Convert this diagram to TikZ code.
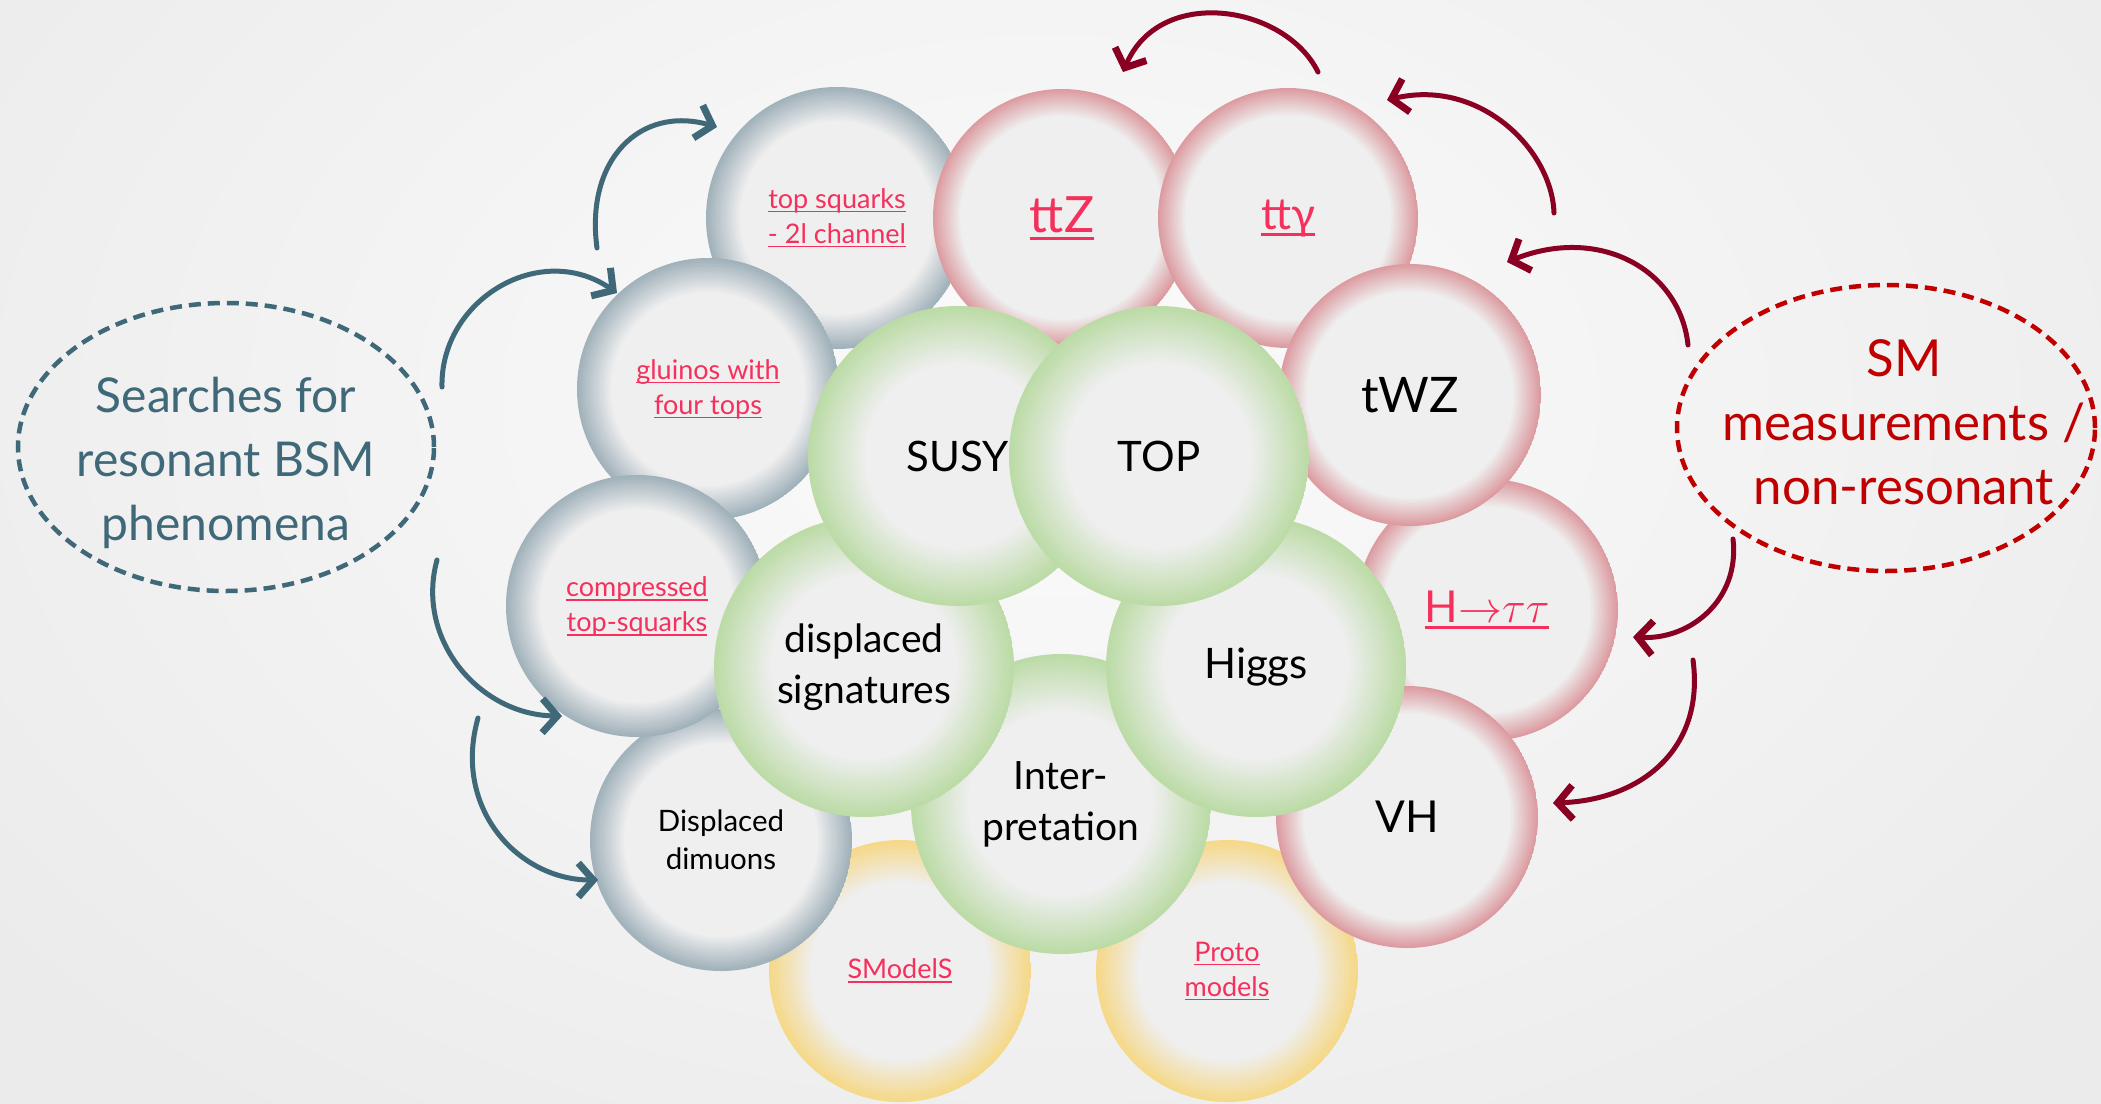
\RequirePackage{fix-cm}
\documentclass[tikz,border=0pt]{standalone}
\usepackage{fontspec}
\setmainfont{Lato}
\usetikzlibrary{arrows.meta,shapes.geometric}

\definecolor{bgin}{HTML}{FBFBFB}
\definecolor{bgout}{HTML}{EBEBEB}
\definecolor{ballfill}{HTML}{EFEFEF}
\definecolor{grayring}{HTML}{A0B1BA}
\definecolor{pinkring}{HTML}{DC9BA0}
\definecolor{greenring}{HTML}{BCDBA6}
\definecolor{yellowring}{HTML}{F5D888}
\definecolor{linkc}{HTML}{F5305C}
\definecolor{tealc}{HTML}{3F6878}
\definecolor{darkred}{HTML}{8A0022}
\definecolor{smred}{HTML}{C00000}

\newcommand\lk[1]{\setbox0\hbox{#1}\leavevmode\rlap{\vrule height -0.09em depth 0.15em width \wd0}\box0}

\tikzset{
  ballbase/.style n args={3}{circle, inner sep=0pt, align=center, minimum size={2*#1pt},
    path picture={
      \foreach \k in {0,...,24} {
        \pgfmathsetmacro\rr{#1*(1-\k*(1-#3)/24)}
        \pgfmathtruncatemacro\mx{100*\k/24}
        \fill[ballfill!\mx!#2] (path picture bounding box.center) circle[radius=\rr pt];
      }
    }},
  grayb/.style={ballbase={131}{grayring}{0.74}},
  pinkb/.style={ballbase={#1}{pinkring}{0.79}},
  pinkb/.default=131,
  yellowb/.style={ballbase={131}{yellowring}{0.68}},
  greenb/.style={ballbase={150}{greenring}{0.62}},
  smalltxt/.style={font=\fontsize{27}{35}\selectfont, text=linkc, text depth=4pt},
  smallblack/.style={font=\fontsize{29.5}{38}\selectfont, text=black},
  bigtxt/.style={font=\fontsize{42}{51}\selectfont, text=black},
  bigtwo/.style={font=\fontsize{39}{51}\selectfont, text=black},
  midtxt/.style={font=\fontsize{44}{51}\selectfont},
  sidebox/.style={ellipse, inner sep=0pt, dash pattern=on 12pt off 7pt, line width=4.5pt},
  sidetext/.style={align=center, font=\fontsize{#1}{64}\selectfont},
  tarrow/.style={draw=tealc, line width=5pt, line cap=round, -{Straight Barb[length=15pt,width=34pt,line width=7pt]}},
  rarrow/.style={draw=darkred, line width=5pt, line cap=round, -{Straight Barb[length=15pt,width=34pt,line width=7pt]}},
}

\begin{document}
\begin{tikzpicture}[x=1pt,y=-1pt]
\useasboundingbox (0,0) rectangle (2101,1103);
\clip (0,0) rectangle (2101,1103);
\shade[inner color=bgin, outer color=bgout] (-300,-500) rectangle (2400,1300);

% yellow
\node[yellowb, smalltxt] (smodels) at (900,971) {\lk{SModelS}};
\node[yellowb, smalltxt] (proto) at (1227,971) {\lk{Proto}\\\lk{models}};

% gray
\node[grayb, smalltxt] (tsq) at (837,218) {\lk{top squarks}\\\lk{- 2l channel}};
\node[grayb, smalltxt] (glu) at (708,389) {\lk{gluinos with}\\\lk{four tops}};
\node[grayb, smallblack] (dimu) at (721,840) {Displaced\\dimuons};
\node[grayb, smalltxt] (comp) at (637,606) {\lk{compressed}\\\lk{top-squarks}};

% pink
\node[pinkb, midtxt, text=linkc] (htt) at (1487,610) {\lk{H$\mathord{\rightarrow}\tau\tau$}};
\node[pinkb=129, text=linkc, font=\fontsize{50}{56}\selectfont] (ttz) at (1062,218) {\lk{ttZ}};
\node[pinkb=130, midtxt, text=linkc] (tta) at (1288,218) {\lk{ttγ}};
\node[pinkb, font=\fontsize{49}{56}\selectfont] (twz) at (1410,395) {tWZ};
\node[pinkb, midtxt] (vh) at (1407,817) {VH};

% green
\node[greenb, bigtwo] (interp) at (1061,804) {Inter-\\pretation};
\node[greenb, bigtwo] (disp) at (864,667) {displaced\\signatures};
\node[greenb, bigtxt] (higgs) at (1256,667) {Higgs};
\node[greenb, bigtxt] (susy) at (958,456) {SUSY};
\node[greenb, bigtxt] (top) at (1159,456) {TOP};

% side ellipses
\node[sidebox, draw=tealc, minimum width=416pt, minimum height=288pt,
  label={[sidetext=48, text=tealc, yshift=-16pt]center:{Searches for\\resonant BSM\\phenomena}}] (bsm) at (226,447) {};
\node[sidebox, draw=smred, minimum width=418pt, minimum height=286pt,
  label={[sidetext=51, text=smred, xshift=18pt, yshift=6pt]center:{SM\\measurements /\\non-resonant}}] (sm) at (1886,428) {};

% arrow end points
\coordinate (a1s) at (597,248); \coordinate (a1e) at (717,127);
\coordinate (a2s) at (442,387); \coordinate (a2e) at (617,293);
\coordinate (a3s) at (437,560); \coordinate (a3e) at (562,716);
\coordinate (a4s) at (478,718); \coordinate (a4e) at (598,880);
\coordinate (b1s) at (1318,72); \coordinate (b1e) at (1123,72);
\coordinate (b2s) at (1554,213); \coordinate (b2e) at (1387,100);
\coordinate (b3s) at (1688,345); \coordinate (b3e) at (1507,262);
\coordinate (b4s) at (1733,539); \coordinate (b4e) at (1633,637);
\coordinate (b5s) at (1693,660); \coordinate (b5e) at (1553,803);

\draw[tarrow] (a1s) .. controls (585,160) and (640,105) .. (a1e);
\draw[tarrow] (a2s) .. controls (440,300) and (540,240) .. (a2e);
\draw[tarrow] (a3s) .. controls (415,640) and (480,715) .. (a3e);
\draw[tarrow] (a4s) .. controls (452,810) and (520,880) .. (a4e);

\draw[rarrow] (b1s) .. controls (1285,5) and (1160,-15) .. (b1e);
\draw[rarrow] (b2s) .. controls (1552,150) and (1480,78) .. (b2e);
\draw[rarrow] (b3s) .. controls (1680,270) and (1600,225) .. (b3e);
\draw[rarrow] (b4s) .. controls (1740,600) and (1690,640) .. (b4e);
\draw[rarrow] (b5s) .. controls (1705,750) and (1640,800) .. (b5e);
\end{tikzpicture}
\end{document}
